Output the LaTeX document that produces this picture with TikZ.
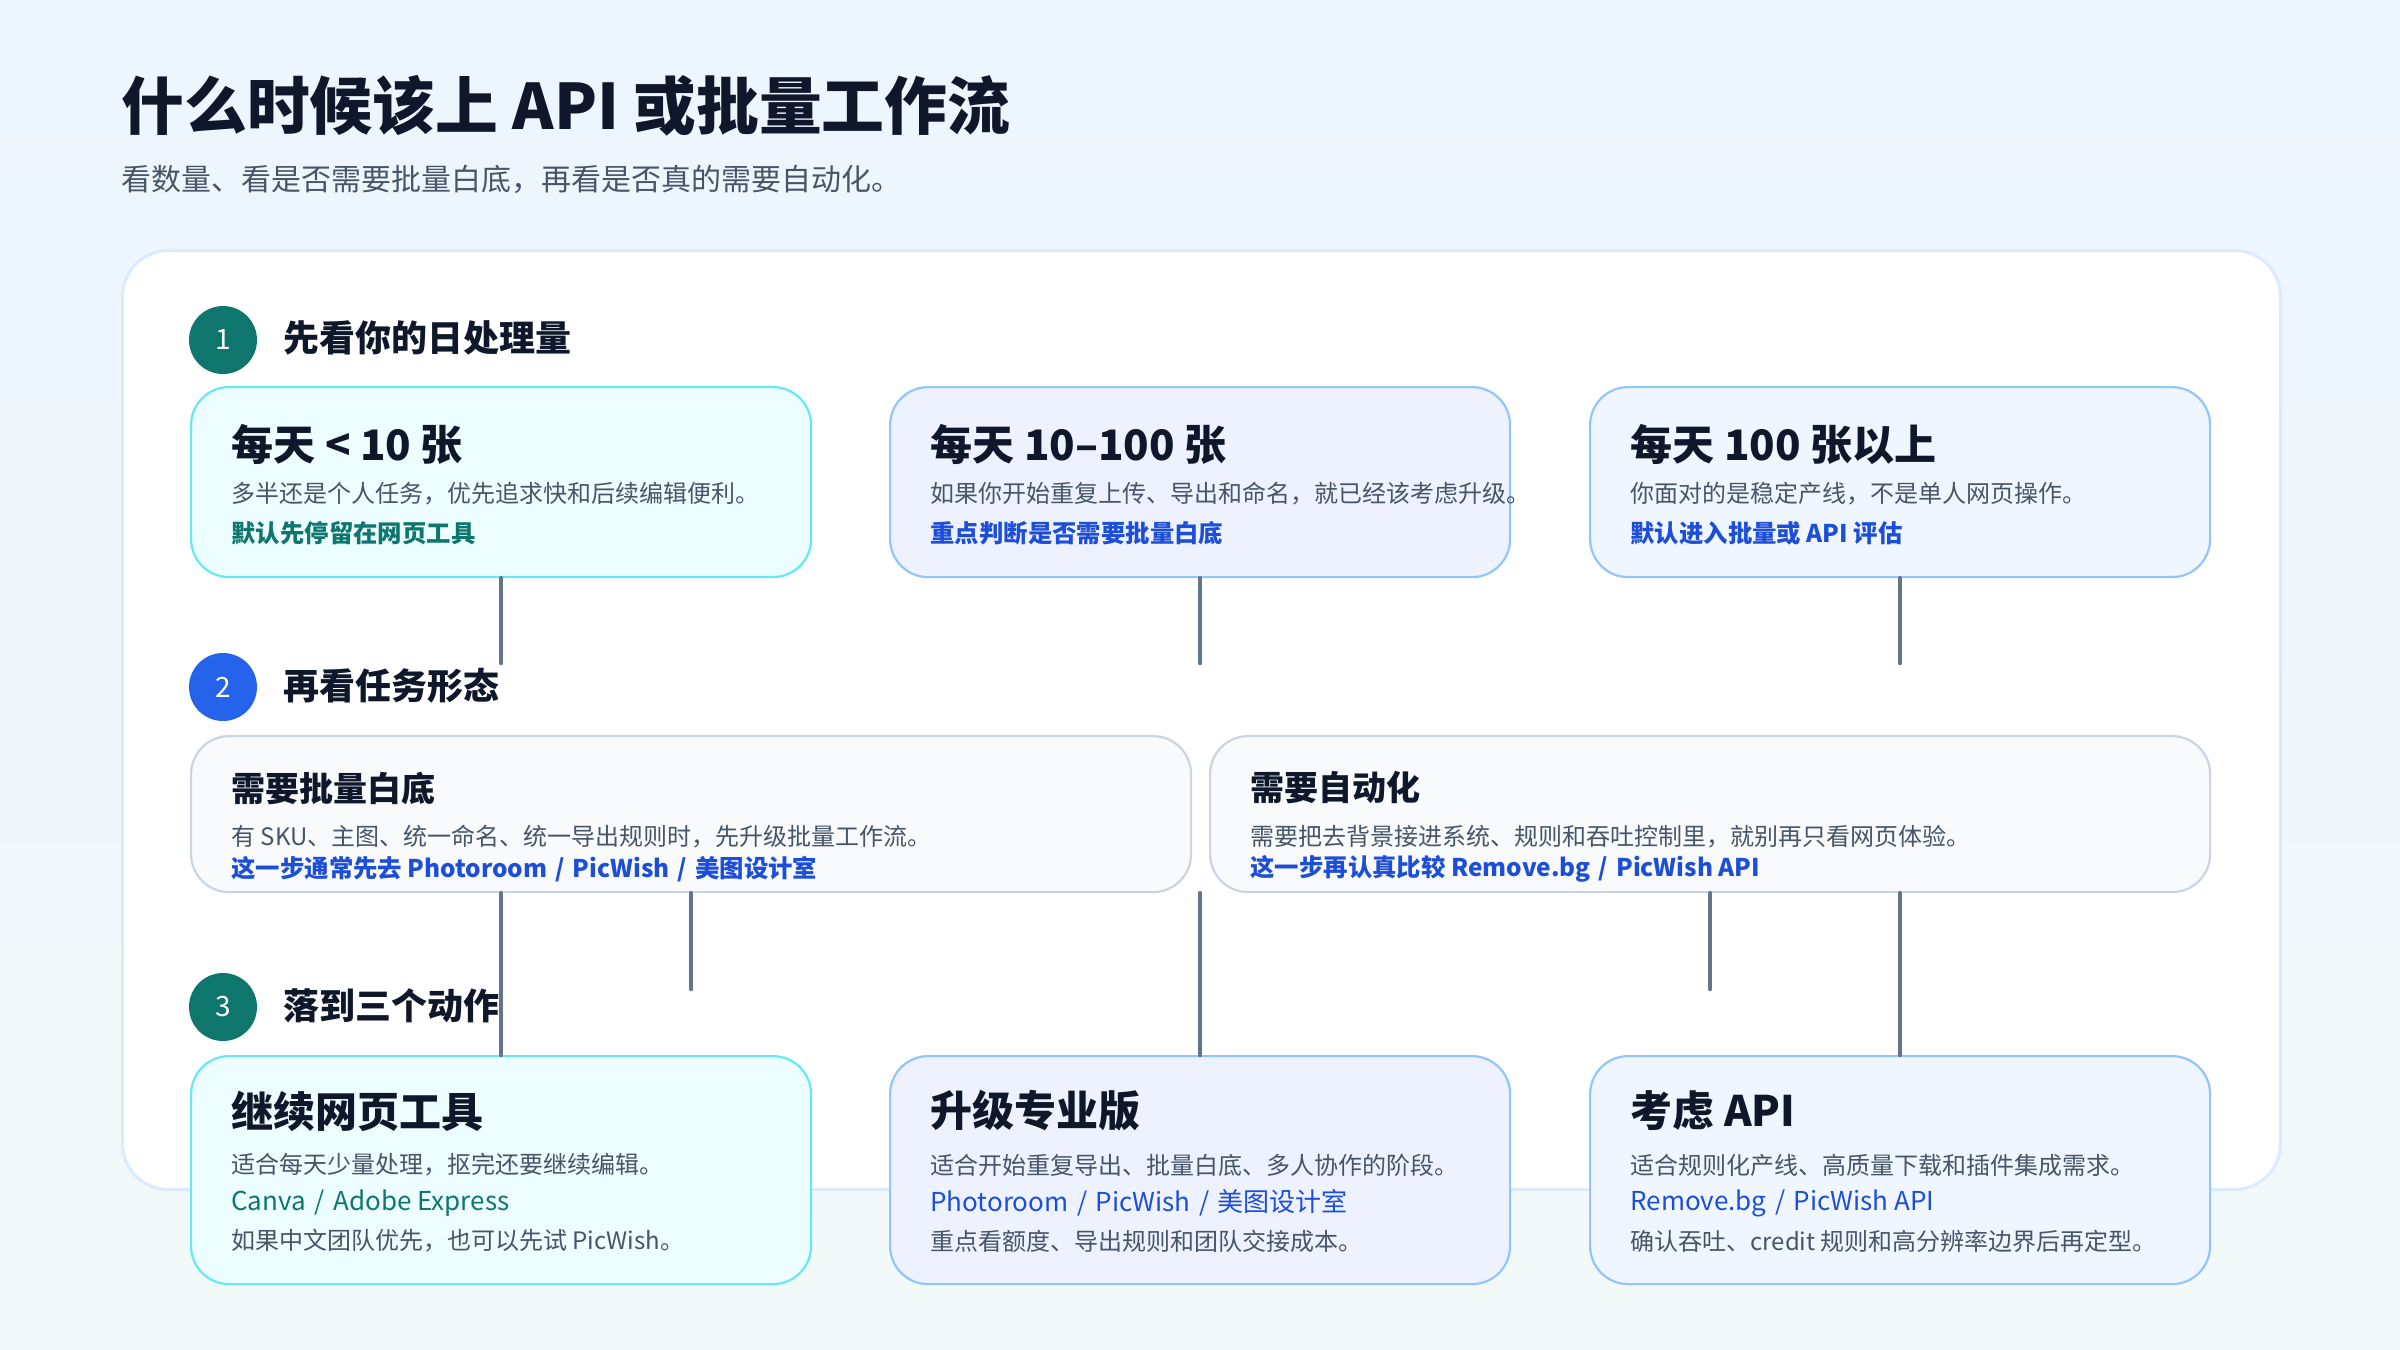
\documentclass[tikz,border=0pt]{standalone}
\usepackage{fontspec}
\setmainfont{Noto Sans CJK SC}
\usetikzlibrary{calc}
\definecolor{bgtop}{HTML}{EDF5FE}
\definecolor{bgbot}{HTML}{F2F9F9}
\definecolor{ink}{HTML}{0F172A}
\definecolor{sub}{HTML}{475569}
\definecolor{tealc}{HTML}{0F766E}
\definecolor{bluec}{HTML}{2563EB}
\definecolor{linkb}{HTML}{1D4ED8}
\definecolor{conn}{HTML}{64748B}
\definecolor{panelb}{HTML}{DBEAFE}
\definecolor{cyanb}{HTML}{67E8F9}
\definecolor{cyanf}{HTML}{ECFEFF}
\definecolor{blueb}{HTML}{93C5FD}
\definecolor{indf}{HTML}{EEF2FF}
\definecolor{bluef}{HTML}{EFF6FF}
\definecolor{grayb}{HTML}{CBD5E1}
\definecolor{grayf}{HTML}{F8FAFC}
\newcommand{\sep}{\hspace{0.33em}/\hspace{0.33em}}
\tikzset{
  card/.style={anchor=north west, rounded corners=19pt, line width=1.1pt, minimum width=310pt, inner sep=0pt},
  cyancard/.style={card, draw=cyanb, fill=cyanf},
  indcard/.style={card, draw=blueb, fill=indf},
  bluecard/.style={card, draw=blueb, fill=bluef},
  graycard/.style={card, draw=grayb, fill=grayf, minimum width=500pt, minimum height=78pt},
  txt/.style={anchor=west, inner sep=0pt},
  bigttl/.style={txt, text=ink, font=\fontsize{21}{25}\selectfont\bfseries},
  midttl/.style={txt, text=ink, font=\fontsize{17}{21}\selectfont\bfseries},
  desc/.style={txt, text=sub, font=\fontsize{12}{15}\selectfont},
  tlink/.style={txt, text=tealc, font=\fontsize{12.2}{15}\selectfont\bfseries},
  blink/.style={txt, text=linkb, font=\fontsize{12.2}{15}\selectfont\bfseries},
  tlinkr/.style={txt, text=tealc, font=\fontsize{13}{15}\selectfont},
  blinkr/.style={txt, text=linkb, font=\fontsize{13}{15}\selectfont},
  stepnum/.style={circle, inner sep=0pt, minimum size=34pt, text=white, font=\fontsize{14}{16}\selectfont},
  sechead/.style={txt, text=ink, font=\fontsize{18}{22}\selectfont\bfseries},
  wire/.style={draw=conn, line width=2.3pt, line cap=round}
}
\begin{document}
\begin{tikzpicture}[x=0.5pt,y=-0.5pt]
\useasboundingbox (0,0) rectangle (2400,1350);
\shade[top color=bgtop, bottom color=bgbot] (0,0) rectangle (2400,1350);

% title
\node[txt, text=ink, font=\fontsize{31.4}{38}\selectfont\bfseries] (title) at (121,106) {什么时候该上 API 或批量工作流};
\node[txt, text=sub, font=\fontsize{15}{18}\selectfont] (subtitle) at (121,179) {看数量、看是否需要批量白底，再看是否真的需要自动化。};

% panel
\node[anchor=north west, draw=panelb, fill=white, line width=1.5pt, rounded corners=23pt, minimum width=1079pt, minimum height=469.5pt, inner sep=0pt] (panel) at (121,249) {};

% step 1
\node[stepnum, fill=tealc] (s1) at (223,340) {1};
\node[sechead] (s1t) at (283,338) {先看你的日处理量};

\node[cyancard, minimum height=95pt] (r1a) at (190,386) {};
\node[indcard, minimum height=95pt] (r1b) at (889,386) {};
\node[bluecard, minimum height=95pt] (r1c) at (1589,386) {};

\node[bigttl] (r1at) at (231,444) {每天 < 10 张};
\node[desc] (r1ad) at (231,494) {多半还是个人任务，优先追求快和后续编辑便利。};
\node[tlink] (r1al) at (231,533) {默认先停留在网页工具};

\node[bigttl] (r1bt) at (930,444) {每天 10–100 张};
\node[desc] (r1bd) at (930,494) {如果你开始重复上传、导出和命名，就已经该考虑升级。};
\node[blink] (r1bl) at (930,533) {重点判断是否需要批量白底};

\node[bigttl] (r1ct) at (1630,444) {每天 100 张以上};
\node[desc] (r1cd) at (1630,494) {你面对的是稳定产线，不是单人网页操作。};
\node[blink] (r1cl) at (1630,533) {默认进入批量或 API 评估};

% step 2
\node[stepnum, fill=bluec] (s2) at (223,687) {2};
\node[sechead] (s2t) at (283,686) {再看任务形态};

\node[graycard] (r2a) at (190,735) {};
\node[graycard] (r2b) at (1209,735) {};

\node[midttl] (r2at) at (231,788) {需要批量白底};
\node[desc] (r2ad) at (231,837) {有 SKU、主图、统一命名、统一导出规则时，先升级批量工作流。};
\node[blink] (r2al) at (231,869) {这一步通常先去 Photoroom\sep PicWish\sep 美图设计室};

\node[midttl] (r2bt) at (1250,788) {需要自动化};
\node[desc] (r2bd) at (1250,837) {需要把去背景接进系统、规则和吞吐控制里，就别再只看网页体验。};
\node[blink] (r2bl) at (1250,869) {这一步再认真比较 Remove.bg\sep PicWish API};

% step 3
\node[stepnum, fill=tealc] (s3) at (223,1007) {3};
\node[sechead] (s3t) at (283,1006) {落到三个动作};

\node[cyancard, minimum height=114pt] (r3a) at (190,1055) {};
\node[indcard, minimum height=114pt] (r3b) at (889,1055) {};
\node[bluecard, minimum height=114pt] (r3c) at (1589,1055) {};

\node[bigttl] (r3at) at (231,1111) {继续网页工具};
\node[desc] (r3ad) at (231,1165) {适合每天少量处理，抠完还要继续编辑。};
\node[tlinkr] (r3al) at (231,1203) {Canva\sep Adobe Express};
\node[desc] (r3an) at (231,1241) {如果中文团队优先，也可以先试 PicWish。};

\node[bigttl] (r3bt) at (930,1111) {升级专业版};
\node[desc] (r3bd) at (930,1165) {适合开始重复导出、批量白底、多人协作的阶段。};
\node[blinkr] (r3bl) at (930,1203) {Photoroom\sep PicWish\sep 美图设计室};
\node[desc] (r3bn) at (930,1241) {重点看额度、导出规则和团队交接成本。};

\node[bigttl] (r3ct) at (1630,1111) {考虑 API};
\node[desc] (r3cd) at (1630,1165) {适合规则化产线、高质量下载和插件集成需求。};
\node[blinkr] (r3cl) at (1630,1203) {Remove.bg\sep PicWish API};
\node[desc] (r3cn) at (1630,1241) {确认吞吐、credit 规则和高分辨率边界后再定型。};

% connectors
\coordinate (e1a) at (r1a.south |- 0,663);
\coordinate (e1b) at (r1b.south |- 0,663);
\coordinate (e1c) at (r1c.south |- 0,663);
\coordinate (e2a) at (r2a.south |- 0,989);
\coordinate (e2b) at (r2b.south |- 0,989);
\coordinate (g2) at (r3b.north |- r2a.south);
\draw[wire] (r1a.south) -- (e1a);
\draw[wire] (r1b.south) -- (e1b);
\draw[wire] (r1c.south) -- (e1c);
\draw[wire] (r2a.south) -- (e2a);
\draw[wire] (r2b.south) -- (e2b);
\draw[wire] (r3a.north |- r2a.south) -- (r3a.north);
\draw[wire] (g2) -- (r3b.north);
\draw[wire] (r3c.north |- r2b.south) -- (r3c.north);
\end{tikzpicture}
\end{document}
